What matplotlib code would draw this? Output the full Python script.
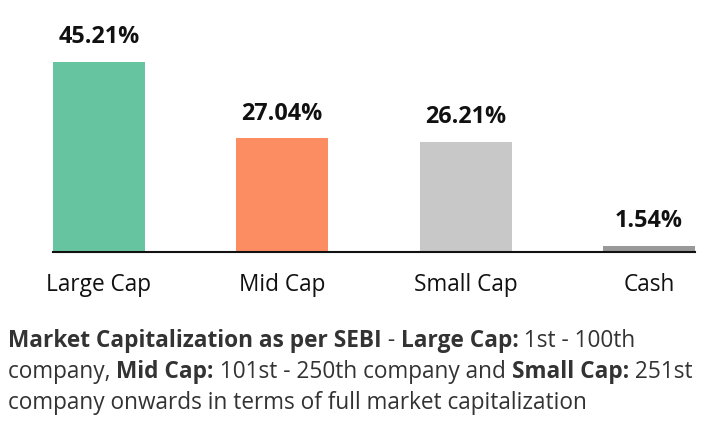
import matplotlib
matplotlib.use("Agg")
import matplotlib.pyplot as plt

categories = ["Large Cap", "Mid Cap", "Small Cap", "Cash"]
values = [45.21, 27.04, 26.21, 1.54]
value_labels = ["45.21%", "27.04%", "26.21%", "1.54%"]
colors = ["#66c5a0", "#fc8d62", "#c8c8c8", "#999999"]

footnote_lines = [
    [("Market Capitalization as per SEBI", True), (" - ", False), ("Large Cap:", True), (" 1st - 100th", False)],
    [("company, ", False), ("Mid Cap:", True), (" 101st - 250th company and ", False), ("Small Cap:", True), (" 251st", False)],
    [("company onwards in terms of full market capitalization", False)],
]

FONT = "Open Sans"
W, H = 720, 423
fig = plt.figure(figsize=(W / 100, H / 100), dpi=100)
left, right = 53 / W, 695 / W
bottom, top = 1 - 252 / H, 1 - 62 / H
ax = fig.add_axes([left, bottom, right - left, top - bottom])
x = list(range(len(categories)))
ax.bar(x, values, width=0.5, color=colors)
ax.set_xlim(-0.25, 3.25)
ax.set_ylim(0, max(values))
for s in ["top", "right", "left"]:
    ax.spines[s].set_visible(False)
ax.spines["bottom"].set_color("#111111")
ax.spines["bottom"].set_linewidth(1.5)
ax.set_yticks([])
ax.set_xticks(x)
ax.set_xticklabels(categories, fontsize=16.3, family=FONT, color="#111111")
for lbl in ax.get_xticklabels():
    lbl.set_va("baseline")
ax.tick_params(axis="x", length=0, pad=28)
for xi, v, lab in zip(x, values, value_labels):
    ax.annotate(lab, (xi, v), xytext=(0, 13.5), textcoords="offset points",
                ha="center", va="baseline", fontsize=16.8, fontweight="bold",
                family=FONT, color="#111111", annotation_clip=False)

renderer = fig.canvas.get_renderer()
baselines = [347, 378, 409]
for segs, yb in zip(footnote_lines, baselines):
    xp = 8
    for txt, bold in segs:
        t = fig.text(xp / W, 1 - yb / H, txt, fontsize=16.3, family=FONT,
                     fontweight="bold" if bold else "normal", color="#333333",
                     ha="left", va="baseline")
        bb = t.get_window_extent(renderer=renderer)
        xp += bb.width

fig.savefig("out.png", dpi=100)
